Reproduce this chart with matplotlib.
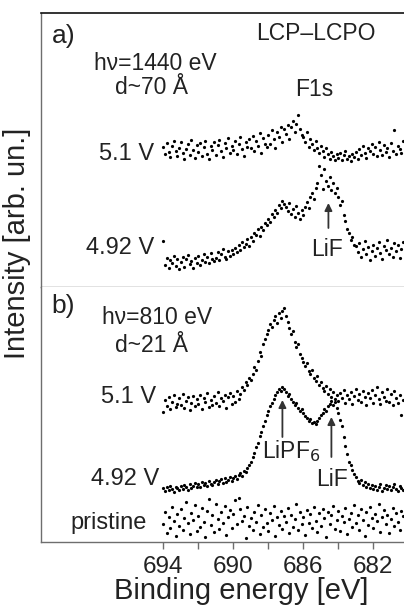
import numpy as np
import matplotlib
matplotlib.use("Agg")
import matplotlib.pyplot as plt

plt.rcParams['font.family'] = ['Liberation Sans', 'DejaVu Sans']

# binding energy grid of the scans (eV), 0.1 eV steps from 694 eV downwards
e_start = 694.0
e_step = 0.1

# F1s, hv = 1440 eV (panel a), intensity in arb. units
a_51V = [140, 133, 144, 135, 130, 141, 146, 136, 131, 139,
         145, 134, 128, 138, 143, 132, 147, 137, 129, 142,
         135, 144, 131, 140, 146, 133, 128, 141, 137, 145,
         132, 142, 147, 136, 130, 144, 139, 149, 134, 141,
         137, 146, 133, 143, 150, 138, 131, 145, 140, 148,
         139, 151, 136, 146, 141, 154, 134, 149, 143, 140,
         152, 143, 157, 148, 139, 155, 150, 160, 145, 158,
         153, 162, 148, 160, 166, 155, 163, 172, 158, 152,
         150, 145, 155, 140, 148, 143, 137, 146, 139, 134,
         141, 136, 130, 139, 133, 128, 135, 131, 127, 133,
         129, 134, 127, 132, 136, 128, 131, 126, 133, 130,
         135, 128, 138, 132, 141, 134, 129, 139, 136, 143,
         133, 140, 131, 145, 137, 132, 142, 135, 139, 130,
         144, 136, 157, 133, 141, 138, 134, 146]
a_492V = [46, 22, 29, 19, 27, 24, 31, 21, 28, 18,
          25, 30, 20, 28, 32, 23, 26, 19, 29, 24,
          31, 22, 27, 33, 25, 30, 24, 34, 28, 26,
          29, 35, 27, 33, 38, 30, 28, 36, 31, 37,
          33, 39, 35, 42, 37, 45, 40, 43, 48, 41,
          50, 46, 54, 52, 58, 51, 60, 57, 64, 62,
          68, 65, 73, 70, 77, 74, 82, 79, 86, 83,
          80, 76, 84, 73, 78, 70, 81, 74, 68, 77,
          72, 80, 85, 79, 90, 94, 88, 99, 104, 121,
          112, 98, 118, 106, 101, 110, 97, 104, 94, 99,
          90, 82, 86, 72, 66, 58, 54, 47, 50, 42,
          41, 35, 44, 30, 38, 46, 33, 40, 27, 36,
          42, 31, 39, 45, 34, 28, 41, 37, 47, 33,
          39, 30, 44, 36, 42, 29, 38, 45]

# F1s, hv = 810 eV (panel b)
b_51V = [130, 142, 136, 145, 133, 140, 147, 135, 138, 144,
         137, 148, 134, 141, 145, 132, 139, 146, 136, 143,
         138, 147, 133, 144, 140, 149, 135, 142, 137, 146,
         139, 150, 136, 144, 141, 147, 134, 145, 149, 138,
         146, 140, 151, 143, 148, 155, 152, 160, 157, 164,
         162, 168, 175, 172, 181, 190, 186, 198, 203, 208,
         212, 218, 215, 222, 226, 219, 229, 224, 231, 234,
         226, 220, 214, 208, 211, 200, 195, 198, 188, 184,
         180, 176, 179, 171, 168, 172, 164, 161, 166, 157,
         160, 154, 151, 156, 148, 153, 145, 150, 143, 147,
         141, 149, 144, 152, 139, 147, 143, 150, 138, 146,
         153, 142, 148, 140, 151, 145, 137, 149, 144, 152,
         139, 147, 155, 143, 138, 150, 145, 141, 153, 140,
         148, 137, 151, 144, 139, 147, 127, 142]
b_492V = [54, 51, 55, 52, 56, 53, 50, 55, 54, 52,
          56, 53, 57, 55, 52, 58, 54, 56, 59, 55,
          58, 55, 60, 57, 59, 56, 61, 58, 57, 60,
          62, 58, 61, 63, 59, 64, 60, 62, 65, 61,
          64, 66, 63, 67, 69, 66, 71, 70, 74, 77,
          80, 85, 89, 95, 99, 106, 110, 116, 121, 127,
          131, 136, 139, 143, 147, 150, 153, 151, 155, 153,
          150, 146, 148, 143, 140, 137, 139, 134, 131, 133,
          129, 126, 124, 121, 123, 119, 120, 118, 121, 124,
          127, 129, 133, 131, 136, 138, 141, 137, 140, 134,
          129, 122, 116, 105, 96, 88, 80, 77, 72, 68,
          65, 61, 59, 62, 57, 60, 55, 58, 54, 57,
          53, 56, 52, 55, 58, 51, 54, 57, 53, 56,
          52, 55, 58, 53, 51, 56, 54, 52]
b_pristine = [18, 30, 9, 25, 14, 35, 21, 6, 28, 16,
              33, 12, 24, 40, 19, 8, 29, 22, 37, 11,
              26, 15, 34, 20, 5, 31, 43, 17, 27, 10,
              38, 23, 13, 30, 19, 36, 7, 25, 32, 14,
              28, 42, 18, 44, 33, 21, 26, 4, 35, 16,
              24, 12, 30, 20, 37, 8, 27, 15, 33, 19,
              11, 29, 22, 36, 6, 25, 17, 31, 13, 26,
              20, 34, 9, 27, 15, 23, 38, 12, 30, 18,
              25, 7, 32, 19, 28, 14, 35, 21, 10, 29,
              16, 33, 24, 5, 30, 18, 27, 36, 13, 22,
              31, 11, 26, 20, 34, 8, 23, 29, 15, 37,
              19, 27, 12, 33, 22, 6, 30, 17, 35, 24,
              14, 28, 21, 38, 10, 25, 32, 18, 27, 9,
              23, 34, 16, 29, 20, 12, 31, 26]

major_ticks = [694, 690, 686, 682]
minor_ticks = [692, 688, 684]

energy = e_start - e_step * np.arange(len(a_51V))

txt = '#222222'
spine = '#6e6e6e'

fig = plt.figure(figsize=(4.04, 6.08), dpi=100)
ax_a = fig.add_axes([41/404, 321/608, 363/404, 274/608])
ax_b = fig.add_axes([41/404, 66/608, 363/404, 255/608])

for ax in (ax_a, ax_b):
    ax.set_xlim(701.0, 680.25)
    ax.set_yticks([])
    ax.spines['right'].set_visible(False)
    ax.spines['left'].set_color(spine)
    ax.spines['bottom'].set_color(spine)
    ax.spines['left'].set_linewidth(1.0)
    ax.spines['bottom'].set_linewidth(1.0)

ax_a.set_ylim(0, 274)
ax_b.set_ylim(0, 255)
ax_a.spines['top'].set_color('#111111')
ax_a.spines['top'].set_linewidth(1.2)
ax_b.spines['top'].set_visible(False)
ax_a.set_xticks([])

ax_b.set_xticks(major_ticks)
ax_b.set_xticks(minor_ticks, minor=True)
ax_b.set_xticklabels([str(t) for t in major_ticks])
ax_b.tick_params(axis='x', which='both', direction='out', length=5,
                 width=1, color=spine, labelsize=17.5, labelcolor=txt, pad=5)

ms = 2.3
for y in (a_51V, a_492V):
    ax_a.plot(energy, y, 'o', ms=ms, mew=0, color='black')
for y in (b_51V, b_492V, b_pristine):
    ax_b.plot(energy, y, 'o', ms=ms, mew=0, color='black')

arrow = dict(arrowstyle='-|>', color='#333333', lw=1.3, mutation_scale=11,
             shrinkA=0, shrinkB=0)

fs = 16.5
# panel a text
ax_a.text(700.4, 251, 'a)', fontsize=19, color=txt, ha='left', va='center')
ax_a.text(685.3, 253, 'LCP\u2013LCPO', fontsize=fs, color=txt, ha='center', va='center')
ax_a.text(694.46, 224, 'h\u03bd=1440 eV', fontsize=fs, color=txt, ha='center', va='center')
ax_a.text(694.69, 199, 'd~70 \u00c5', fontsize=fs, color=txt, ha='center', va='center')
ax_a.text(685.37, 198, 'F1s', fontsize=fs, color=txt, ha='center', va='center')
ax_a.text(694.51, 133, '5.1 V', fontsize=17, color=txt, ha='right', va='center')
ax_a.text(694.51, 39, '4.92 V', fontsize=17, color=txt, ha='right', va='center')
ax_a.text(684.63, 37, 'LiF', fontsize=fs, color=txt, ha='center', va='center')
ax_a.annotate('', xy=(684.57, 84), xytext=(684.57, 59), arrowprops=arrow)

# panel b text
ax_b.text(700.4, 236, 'b)', fontsize=19, color=txt, ha='left', va='center')
ax_b.text(694.34, 224, 'h\u03bd=810 eV', fontsize=fs, color=txt, ha='center', va='center')
ax_b.text(694.69, 197, 'd~21 \u00c5', fontsize=fs, color=txt, ha='center', va='center')
ax_b.text(694.4, 145, '5.1 V', fontsize=17, color=txt, ha='right', va='center')
ax_b.text(694.23, 63, '4.92 V', fontsize=17, color=txt, ha='right', va='center')
ax_b.text(694.97, 19, 'pristine', fontsize=17, color=txt, ha='right', va='center')
ax_b.text(686.7, 91, 'LiPF$_6$', fontsize=fs, color=txt, ha='center', va='center')
ax_b.text(684.34, 62, 'LiF', fontsize=fs, color=txt, ha='center', va='center')
ax_b.annotate('', xy=(687.2, 142), xytext=(687.2, 105), arrowprops=arrow)
ax_b.annotate('', xy=(684.4, 125), xytext=(684.4, 85), arrowprops=arrow)

fig.text(17/404, 1 - 243/608, 'Intensity [arb. un.]', rotation=90, fontsize=21,
         color=txt, ha='center', va='center')
fig.text(241/404, 1 - 591/608, 'Binding energy [eV]', fontsize=21,
         color=txt, ha='center', va='center')

fig.savefig('out.png', dpi=100)
